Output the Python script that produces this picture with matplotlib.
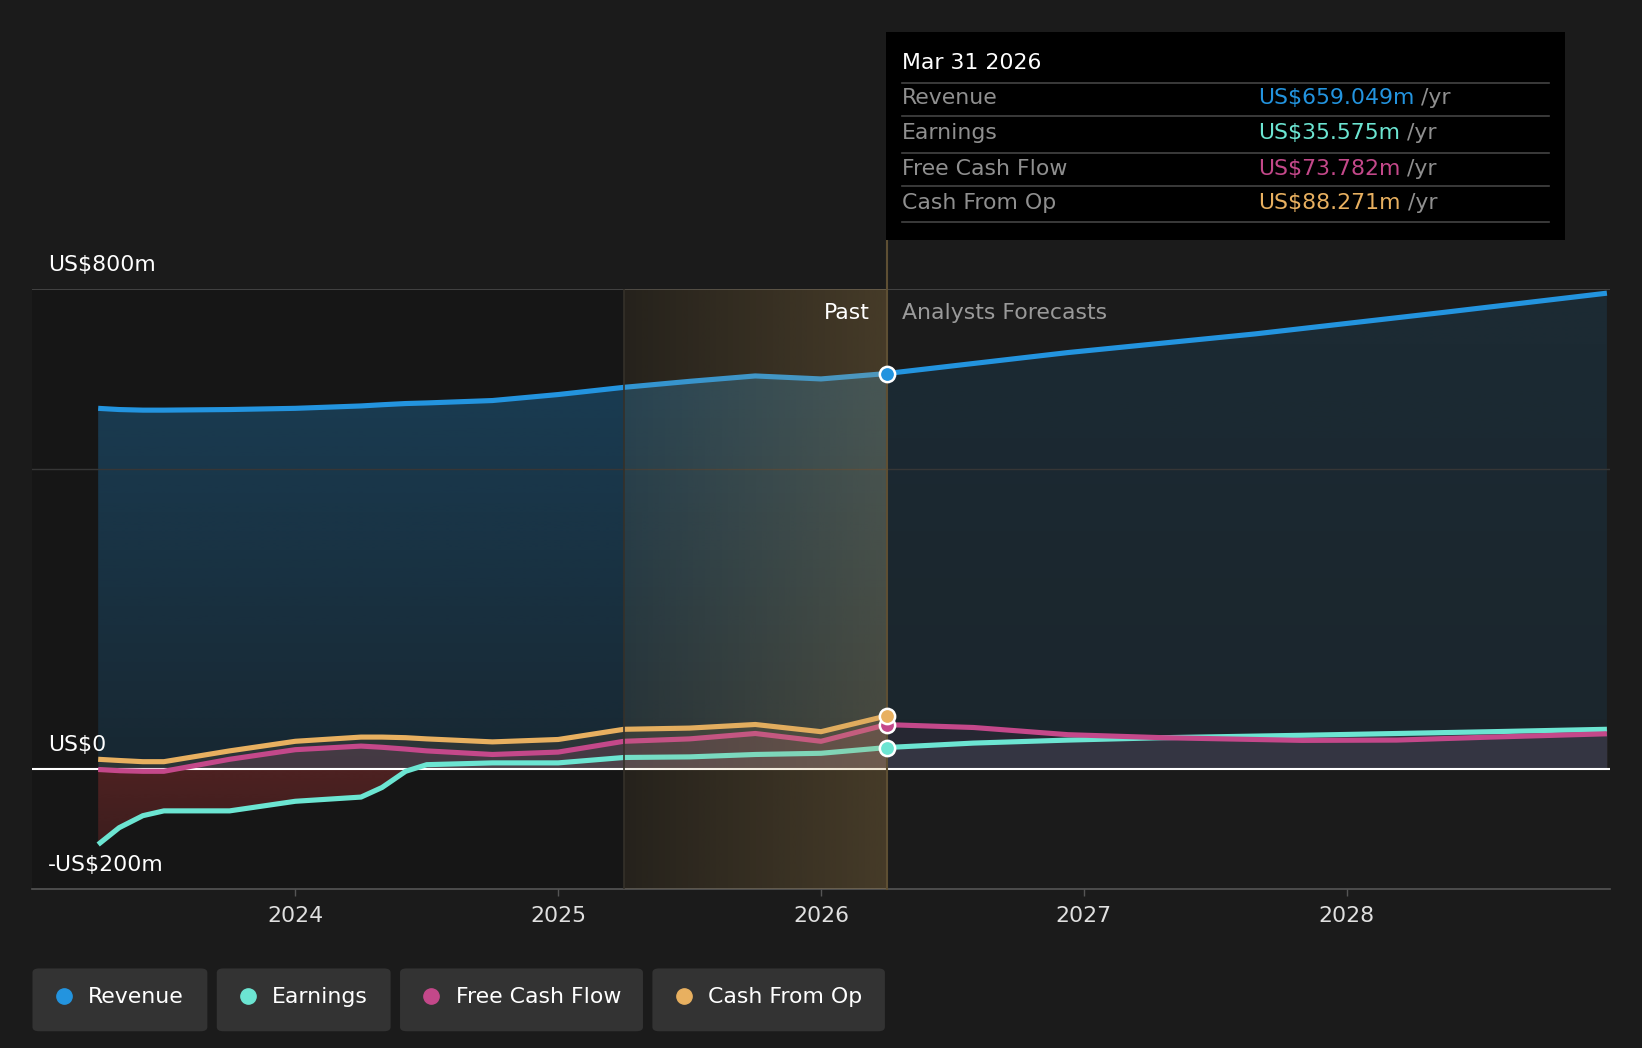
import numpy as np
import matplotlib
matplotlib.use("Agg")
import matplotlib.pyplot as plt
import matplotlib.colors as mcolors
from matplotlib.patches import Rectangle, FancyBboxPatch
from matplotlib.lines import Line2D

# values (US$ m, x in decimal years)
past_dates = [2023.25, 2023.33, 2023.42, 2023.5, 2023.75, 2024.0, 2024.25, 2024.33,
              2024.42, 2024.5, 2024.75, 2025.0, 2025.25, 2025.5, 2025.75, 2026.0, 2026.25]
revenue_past = [601, 599, 598, 598, 599, 601, 605, 607, 609, 610, 614, 624, 636, 646, 655, 650, 659.049]
earnings_past = [-126, -98, -78, -70, -70, -54, -47, -31, -4, 7, 10, 10, 19, 20, 24, 26, 35.575]
fcf_past = [-1, -3, -4, -4, 16, 32, 38, 36, 33, 30, 24, 28, 46, 50, 59, 46, 73.782]
cfo_past = [16, 14, 12, 12, 30, 46, 53, 53, 52, 50, 45, 49, 66, 68, 74, 62, 88.271]

rev_fc_dates = [2026.25, 2026.94, 2027.65, 2028.37, 2028.99]
revenue_fc = [659.049, 694, 725, 761, 793]
fc_dates = [2026.25, 2026.58, 2026.94, 2027.30, 2027.83, 2028.19, 2028.55, 2028.99]
earnings_fc = [35.575, 43, 48, 52, 56, 59, 62, 66]
fcf_fc = [73.782, 69, 57, 52, 47.5, 48, 53, 58.5]

year_ticks = [2024, 2025, 2026, 2027, 2028]
cutoff = 2026.25
band_start = 2025.25

C_REV = "#2394df"
C_EARN = "#6ce5d2"
C_FCF = "#c4488a"
C_CFO = "#e8b060"
BG = "#1b1b1b"
FS = 15.8

W, H = 1568, 1001  # layout measured on this grid


def fx(x):
    return x / W


def fy(y):
    return 1 - y / H


def grad_fill(ax, x, y, color, a_top, a_bot, ytop, ybot, z):
    x = np.asarray(x, float)
    poly = ax.fill_between(x, y, 0, facecolor="none", edgecolor="none", zorder=z)
    img = np.zeros((256, 1, 4))
    img[:, :, :3] = mcolors.to_rgb(color)
    img[:, 0, 3] = np.linspace(a_top, a_bot, 256)
    im = ax.imshow(img, aspect="auto", extent=[x.min(), x.max(), ybot, ytop],
                   origin="upper", zorder=z, interpolation="bilinear")
    im.set_clip_path(poly.get_paths()[0], transform=ax.transData)


fig = plt.figure(figsize=(16.42, 10.48), dpi=100, facecolor=BG)
ax = fig.add_axes([fx(31), fy(849), fx(1537) - fx(31), fy(276) - fy(849)])
ax.set_facecolor("none")

# past background
ax.axvspan(2023.0, cutoff, color="#161616", zorder=0, lw=0)

# area fills
grad_fill(ax, past_dates, revenue_past, C_REV, 0.34, 0.14, 800, 0, 1)
grad_fill(ax, rev_fc_dates, revenue_fc, C_REV, 0.13, 0.09, 800, 0, 1)
grad_fill(ax, past_dates, np.minimum(earnings_past, 0), "#d03c3c", 0.30, 0.16, 0, -200, 1)
ax.fill_between(past_dates, np.maximum(earnings_past, 0), 0, color="#a0b0b0", alpha=0.10, lw=0, zorder=1.2)
ax.fill_between(past_dates, np.maximum(fcf_past, 0), 0, color=C_FCF, alpha=0.16, lw=0, zorder=1.3)
ax.fill_between(past_dates, cfo_past, 0, color=C_CFO, alpha=0.10, lw=0, zorder=1.4)
ax.fill_between(fc_dates, earnings_fc, 0, color="#8a96a8", alpha=0.14, lw=0, zorder=1.2)
ax.fill_between(fc_dates, fcf_fc, 0, color=C_FCF, alpha=0.07, lw=0, zorder=1.3)

# grid lines
ax.axhline(800, color="#4a4a4a", lw=1.2, zorder=2)
ax.axhline(500, color="#363636", lw=1.0, zorder=2)
ax.axhline(0, color="white", lw=1.5, zorder=2.5)

# series lines
kw = dict(lw=3.7, solid_capstyle="butt", solid_joinstyle="round", zorder=3)
ax.plot(past_dates, revenue_past, color=C_REV, **kw)
ax.plot(rev_fc_dates, revenue_fc, color=C_REV, **kw)
ax.plot(past_dates, earnings_past, color=C_EARN, **kw)
ax.plot(fc_dates, earnings_fc, color=C_EARN, **kw)
ax.plot(past_dates, fcf_past, color=C_FCF, **kw)
ax.plot(fc_dates, fcf_fc, color=C_FCF, **kw)
ax.plot(past_dates, cfo_past, color=C_CFO, **kw)

# last-year highlight band
band = np.zeros((1, 256, 4))
band[:, :, :3] = mcolors.to_rgb("#c8a05a")
band[0, :, 3] = np.linspace(0.09, 0.27, 256)
ax.imshow(band, aspect="auto", extent=[band_start, cutoff, -200, 800], zorder=4,
          interpolation="bilinear")
ax.axvline(band_start, color="#35312a", lw=1.2, zorder=4.1)
ax.plot([cutoff, cutoff], [-200, 882], color="#5e4f33", lw=1.5, zorder=4.2, clip_on=False)

# markers at the cutoff
for val, col in [(revenue_past[-1], C_REV), (fcf_past[-1], C_FCF),
                 (earnings_past[-1], C_EARN), (cfo_past[-1], C_CFO)]:
    ax.plot([cutoff], [val], "o", ms=11, mfc=col, mec="white", mew=1.8, zorder=6)

ax.set_xlim(2023.0, 2029.0)
ax.set_ylim(-200, 800)

for s in ["top", "right", "left"]:
    ax.spines[s].set_visible(False)
ax.spines["bottom"].set_color("#555555")
ax.spines["bottom"].set_linewidth(1.2)
ax.set_yticks([])
ax.set_xticks(year_ticks)
ax.set_xticklabels([str(y) for y in year_ticks])
ax.tick_params(axis="x", colors="#555555", length=5, width=1, labelcolor="#e0e0e0",
               labelsize=FS, pad=7)

# y value labels
for val, lab in [(800, "US$800m"), (0, "US$0"), (-200, "-US$200m")]:
    ax.annotate(lab, xy=(0.0, val), xycoords=("axes fraction", "data"),
                xytext=(11, 17), textcoords="offset points", color="white",
                fontsize=FS, va="center", ha="left", zorder=7)

ax.annotate("Past", xy=(cutoff, 800), xytext=(-12, -17), textcoords="offset points",
            color="white", fontsize=FS, ha="right", va="center", zorder=7)
ax.annotate("Analysts Forecasts", xy=(cutoff, 800), xytext=(11, -17), textcoords="offset points",
            color="#9a9a9a", fontsize=FS, ha="left", va="center", zorder=7)

# tooltip box
fig.patches.append(Rectangle((fx(846), fy(229)), fx(1494) - fx(846), fy(31) - fy(229),
                             transform=fig.transFigure, facecolor="black", edgecolor="none"))
fig.text(fx(861), fy(60), "Mar 31 2026", color="white", fontsize=FS, va="center")
for yy in [79, 111, 146, 178, 212]:
    fig.lines.append(Line2D([fx(861), fx(1479)], [fy(yy), fy(yy)], transform=fig.transFigure,
                            color="#444444", lw=1.2))
rows = [("Revenue", "US$659.049m", C_REV, 94),
        ("Earnings", "US$35.575m", C_EARN, 127),
        ("Free Cash Flow", "US$73.782m", C_FCF, 161),
        ("Cash From Op", "US$88.271m", C_CFO, 194)]
renderer = fig.canvas.get_renderer()
for name, val, col, yy in rows:
    fig.text(fx(861), fy(yy), name, color="#8f8f8f", fontsize=FS, va="center")
    t = fig.text(fx(1201), fy(yy), val, color=col, fontsize=FS, va="center")
    x_end = fig.transFigure.inverted().transform(t.get_window_extent(renderer))[1, 0]
    fig.text(x_end + fx(7), fy(yy), "/yr", color="#8f8f8f", fontsize=FS, va="center")

# legend buttons
legend = [("Revenue", C_REV, 31, 198), ("Earnings", C_EARN, 207, 373),
          ("Free Cash Flow", C_FCF, 382, 614), ("Cash From Op", C_CFO, 623, 845)]
for name, col, x0, x1 in legend:
    fig.patches.append(FancyBboxPatch((fx(x0), fy(985)), fx(x1) - fx(x0), fy(925) - fy(985),
                                      boxstyle="round,pad=0,rounding_size=0.004",
                                      transform=fig.transFigure, facecolor="#333333",
                                      edgecolor="none"))
    fig.lines.append(Line2D([fx(x0 + 30)], [fy(951)], transform=fig.transFigure, marker="o",
                            ms=11, color=col, mec=col))
    fig.text(fx(x0 + 53), fy(952), name, color="white", fontsize=FS, va="center")

fig.savefig("out.png", dpi=100, facecolor=BG)
